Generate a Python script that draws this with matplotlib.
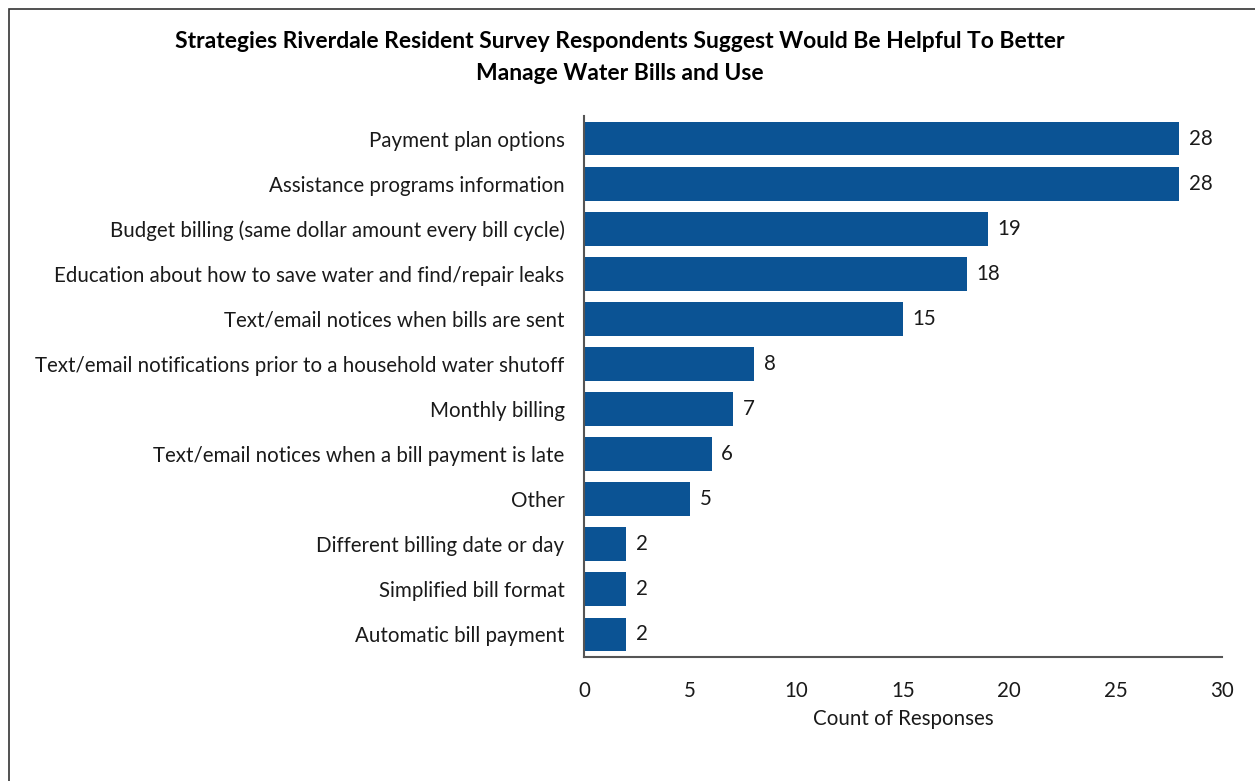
import matplotlib
matplotlib.use("Agg")
import matplotlib.pyplot as plt
from matplotlib.patches import Rectangle

categories = [
    "Payment plan options",
    "Assistance programs information",
    "Budget billing (same dollar amount every bill cycle)",
    "Education about how to save water and find/repair leaks",
    "Text/email notices when bills are sent",
    "Text/email notifications prior to a household water shutoff",
    "Monthly billing",
    "Text/email notices when a bill payment is late",
    "Other",
    "Different billing date or day",
    "Simplified bill format",
    "Automatic bill payment",
]
counts = [28, 28, 19, 18, 15, 8, 7, 6, 5, 2, 2, 2]
x_ticks = [0, 5, 10, 15, 20, 25, 30]

plt.rcParams['font.family'] = ['Lato', 'DejaVu Sans']
bar_color = '#0B5394'
txt_color = '#1a1a1a'
fs = 14.8

fig = plt.figure(figsize=(12.55, 7.81), dpi=100)
ax = fig.add_axes([0.4653, 0.1588, 0.5084, 0.6927])

y = list(range(len(categories)))
ax.barh(y, counts, height=0.75, color=bar_color)
for yi, v in zip(y, counts):
    ax.text(v + 0.45, yi, str(v), va='center', ha='left', fontsize=fs, color=txt_color)

ax.set_ylim(len(categories) - 0.5, -0.5)
ax.set_xlim(0, 30)
ax.set_yticks(y)
ax.set_yticklabels(categories, fontsize=fs, color=txt_color)
ax.set_xticks(x_ticks)
ax.set_xticklabels([str(t) for t in x_ticks], fontsize=fs, color=txt_color)
ax.tick_params(length=0, pad=17, axis='x')
ax.tick_params(length=0, pad=14, axis='y')
ax.set_xlabel("Count of Responses", fontsize=fs, color=txt_color, labelpad=6)

for s in ['top', 'right']:
    ax.spines[s].set_visible(False)
for s in ['left', 'bottom']:
    ax.spines[s].set_color('#555555')
    ax.spines[s].set_linewidth(1.5)

fig.text(0.494, 0.926, "Strategies Riverdale Resident Survey Respondents Suggest Would Be Helpful To Better\nManage Water Bills and Use",
         ha='center', va='center', fontsize=16.5, fontweight='bold', linespacing=1.65)

# outer frame
fig.patches.append(Rectangle((9 / 1255, -0.05), 1.1, 1 - 9 / 781 + 0.05, transform=fig.transFigure,
                             fill=False, edgecolor='#333333', linewidth=1.2))

fig.savefig("out.png", dpi=100)
